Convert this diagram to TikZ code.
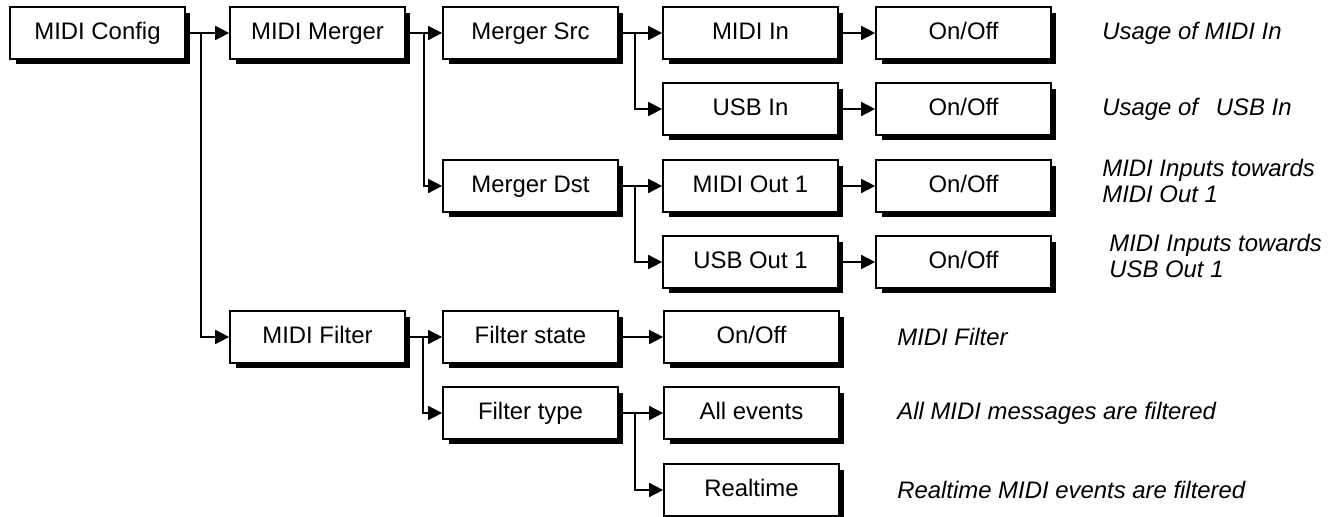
\documentclass[tikz,border=0pt]{standalone}
\usepackage{fontspec}
\setmainfont{Liberation Sans}
\usetikzlibrary{positioning,arrows.meta,shadows}

\begin{document}
\begin{tikzpicture}[x=0.02cm, y=-0.02cm,
    menu/.style={draw, line width=1pt, fill=white, minimum width=3.5cm, minimum height=1.04cm, inner sep=0pt,
        text height=10pt, text depth=2.5pt, font=\fontsize{13.6}{16}\selectfont,
        drop shadow={shadow xshift=0.11cm, shadow yshift=-0.11cm, fill=black, opacity=1}},
    note/.style={anchor=west, align=left, inner sep=0pt, font=\fontsize{13.6}{15}\selectfont\itshape},
    link/.style={line width=1pt, -{Triangle[length=0.28cm, width=0.28cm]}}]
        \useasboundingbox (0,0) rectangle (1340,517);

        \node (config) [menu] at (97.5,33) {MIDI Config};
        \node (merger) [menu] at (317.5,33) {MIDI Merger};
        \node (src) [menu] at (530.5,33) {Merger Src};
        \node (midiin) [menu] at (750.5,33) {MIDI In};
        \node (midiinsw) [menu] at (963.5,33) {On/Off};
        \node (usbin) [menu] at (750.5,109) {USB In};
        \node (usbinsw) [menu] at (963.5,109) {On/Off};
        \node (dst) [menu] at (530.5,186) {Merger Dst};
        \node (midiout) [menu] at (750.5,186) {MIDI Out 1};
        \node (midioutsw) [menu] at (963.5,186) {On/Off};
        \node (usbout) [menu] at (750.5,262) {USB Out 1};
        \node (usboutsw) [menu] at (963.5,262) {On/Off};
        \node (filter) [menu] at (317.5,337) {MIDI Filter};
        \node (fstate) [menu] at (530.5,337) {Filter state};
        \node (fstatesw) [menu] at (751.5,337) {On/Off};
        \node (ftype) [menu] at (530.5,413) {Filter type};
        \node (fall) [menu] at (751.5,413) {All events};
        \node (freal) [menu] at (751.5,490) {Realtime};

        \node (midiinnote) [note] at (1102,33) {Usage of MIDI In};
        \node (usbinnote) [note] at (1102,109) {Usage of\hspace{0.75em}USB In};
        \node (midioutnote) [note] at (1102,181) {MIDI Inputs towards\\MIDI Out 1};
        \node (usboutnote) [note] at (1109,256) {MIDI Inputs towards\\USB Out 1};
        \node (fstatenote) [note] at (897,337) {MIDI Filter};
        \node (fallnote) [note] at (897,413) {All MIDI messages are filtered};
        \node (frealnote) [note] at (897,490) {Realtime MIDI events are filtered};

        \draw[link] (config) -- (merger);
        \draw[link] (config.east) -- ++(15,0) |- (filter);
        \draw[link] (merger) -- (src);
        \draw[link] (merger.east) -- ++(18,0) |- (dst);
        \draw[link] (src) -- (midiin);
        \draw[link] (src.east) -- ++(16,0) |- (usbin);
        \draw[link] (midiin) -- (midiinsw);
        \draw[link] (usbin) -- (usbinsw);
        \draw[link] (dst) -- (midiout);
        \draw[link] (dst.east) -- ++(16,0) |- (usbout);
        \draw[link] (midiout) -- (midioutsw);
        \draw[link] (usbout) -- (usboutsw);
        \draw[link] (filter) -- (fstate);
        \draw[link] (filter.east) -- ++(17,0) |- (ftype);
        \draw[link] (fstate) -- (fstatesw);
        \draw[link] (ftype) -- (fall);
        \draw[link] (ftype.east) -- ++(16,0) |- (freal);
    \end{tikzpicture}
\end{document}
